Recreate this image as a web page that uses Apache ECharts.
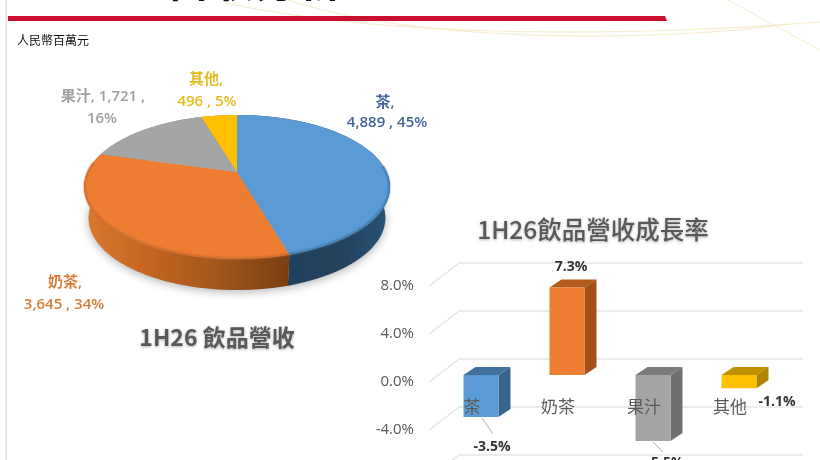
<!DOCTYPE html>
<html><head><meta charset="utf-8">
<style>html,body{margin:0;padding:0;background:#fff}#c{width:820px;height:460px}</style>
<script src="https://cdn.jsdelivr.net/npm/echarts@6/dist/echarts.min.js"></script>
</head><body><div id="c"></div>
<script>
// ---- data ----
const revenueNames = ['茶', '奶茶', '果汁', '其他'];
const revenueValues = [4889, 3645, 1721, 496];
const revenueShares = [45, 34, 16, 5];
const growthNames = ['茶', '奶茶', '果汁', '其他'];
const growthValues = [-3.5, 7.3, -5.5, -1.1];
const growthTicks = [-8, -4, 0, 4, 8];

// ---- styling / layout ----
const SANS = '"Open Sans","Noto Sans CJK TC",sans-serif';
const CJK = '"Noto Sans CJK TC","Open Sans",sans-serif';
const pieTopColors = ['#5b9bd5', '#ed7d31', '#a5a5a5', '#ffc000'];
const pieWallStops = [
  [['#1f3d59', 0], ['#23435f', .7], ['#2a5376', 1]],
  [['#dc7830', 0], ['#c0641f', .35], ['#a3561c', .65], ['#7a3e12', 1]],
  [['#888888', 0], ['#888888', 1]],
  [['#bf9000', 0], ['#bf9000', 1]]
];
const pieRimColors = ['#3d6e9c', '#c4692a', null, null];
const pieLabelColors = ['#44649a', '#d97c38', '#a0a0a0', '#e3bd20'];
const pieLabelLayout = [
  {lines: (n, v, s) => [n + ',', v + ' , ' + s + '%'], x: [385, 387], y: [103, 123]},
  {lines: (n, v, s) => [n + ',', v + ' , ' + s + '%'], x: [65, 64], y: [283, 305]},
  {lines: (n, v, s) => [n + ', ' + v + ' ,', s + '%'], x: [103, 102], y: [97, 119]},
  {lines: (n, v, s) => [n + ',', v + ' , ' + s + '%'], x: [206, 207], y: [80, 102]}
];
const barFront = ['#5b9bd5', '#ed7d31', '#a5a5a5', '#ffc000'];
const barTop = ['#41719c', '#b35a1c', '#7b7b7b', '#bf9000'];
const barSide = ['#39648c', '#a3511a', '#6f6f6f', '#b08400'];
const barLabelOffset = [[20, 23], [13, -27], [21, 15], [47, 7]];
const barLeader = [[[10, -6], [21, 10]], null, [[9, -6], [19, 4]], null];

// perspective disc → screen
const C = {x: 237, y: 172, A: 149.6, B: 68.9, k: 0.208, depth: 31, shrink: 0.97};
const total = revenueValues.reduce((a, b) => a + b, 0);
const RIM_FROM = 85 * Math.PI / 180, RIM_TO = 278 * Math.PI / 180;
function proj(theta, r) {
  const u = Math.sin(theta) * r, v = Math.cos(theta) * r, s = 1 / (1 + C.k * v);
  return [C.x + C.A * u * s, C.y - C.B * v * s];
}
function low(p) { return [C.x + (p[0] - C.x) * C.shrink, p[1] + C.depth]; }
function arcPts(a0, a1, r) {
  const n = Math.max(4, Math.ceil((a1 - a0) / 0.03)), out = [];
  for (let i = 0; i <= n; i++) out.push(proj(a0 + (a1 - a0) * i / n, r));
  return out;
}
function sliceAngles(i) {
  let c = 0;
  for (let j = 0; j < i; j++) c += revenueValues[j];
  return [c / total * 2 * Math.PI, (c + revenueValues[i]) / total * 2 * Math.PI];
}
function fmtThousands(v) { return v.toLocaleString('en-US'); }

function renderPieWall(params, api) {
  const i = api.value(0), [a0, a1] = sliceAngles(i);
  const rim = arcPts(a0, a1, 1), pts = rim.concat(rim.slice().reverse().map(low));
  return {type: 'polygon', shape: {points: pts}, style: {
    fill: new echarts.graphic.LinearGradient(0, 0, 1, 0,
      pieWallStops[i].map(s => ({color: s[0], offset: s[1]}))),
    stroke: 'none'}};
}
function renderPieTop(params, api) {
  const i = api.value(0), [a0, a1] = sliceAngles(i);
  const pts = [proj(0, 0)].concat(arcPts(a0, a1, 1));
  const L = pieLabelLayout[i];
  const lines = L.lines(revenueNames[i], fmtThousands(revenueValues[i]), revenueShares[i]);
  const children = [{type: 'polygon', shape: {points: pts}, style: {fill: pieTopColors[i]}}];
  if (pieRimColors[i]) {
    const r0 = Math.max(a0, RIM_FROM), r1 = Math.min(a1, RIM_TO);
    const rim = arcPts(r0, r1, 0.995);
    children.push({type: 'polyline', shape: {points: rim}, style: {fill: 'none', stroke: pieRimColors[i], lineWidth: 4, opacity: .25}});
    children.push({type: 'polyline', shape: {points: rim}, style: {fill: 'none', stroke: pieRimColors[i], lineWidth: 2, opacity: .4}});
  }
  lines.forEach((t, k) => children.push({type: 'text', z2: 10, style: {
    x: L.x[k], y: L.y[k], text: t, align: 'center', verticalAlign: 'middle',
    fill: pieLabelColors[i], font: '600 15px ' + SANS}}));
  return {type: 'group', children};
}
function renderGrid(params, api) {
  const p = api.coord([0, api.value(0)]), x = params.coordSys.x, y = p[1];
  return {type: 'polyline', shape: {points: [[x, y], [x + 30, y - 23], [x + 374, y - 23]]},
    style: {fill: 'none', stroke: '#d9d9d9', lineWidth: 1}};
}
function renderBar(params, api) {
  const i = api.value(0), val = api.value(1), w = 35, dx = 12, dy = 8;
  const zero = api.coord([i, 0]), end = api.coord([i, val]);
  const x = zero[0] + 9 - w / 2, yA = zero[1] - 7, yB = end[1] - 7;
  const t = Math.min(yA, yB), b = Math.max(yA, yB);
  const children = [
    {type: 'polygon', shape: {points: [[x, t], [x + dx, t - dy], [x + w + dx, t - dy], [x + w, t]]}, style: {fill: barTop[i]}},
    {type: 'polygon', shape: {points: [[x + w, t], [x + w + dx, t - dy], [x + w + dx, b - dy], [x + w, b]]}, style: {fill: barSide[i]}},
    {type: 'rect', shape: {x, y: t, width: w, height: b - t}, style: {fill: barFront[i]}}
  ];
  const lead = barLeader[i];
  if (lead) children.push({type: 'line', shape: {x1: end[0] + lead[0][0], y1: end[1] + lead[0][1], x2: end[0] + lead[1][0], y2: end[1] + lead[1][1]}, style: {stroke: '#b0b0b0', lineWidth: 1}});
  const o = barLabelOffset[i];
  children.push({type: 'text', style: {x: end[0] + o[0], y: end[1] + o[1], text: val.toFixed(1) + '%',
    align: 'center', verticalAlign: 'middle', fill: '#333', font: '700 14px ' + SANS}});
  return {type: 'group', children};
}

const chart = echarts.init(document.getElementById('c'), null, {renderer: 'canvas'});
chart.setOption({
  animation: false,
  backgroundColor: '#fff',
  title: [
    {text: '1H26 飲品營收', left: 212, top: 332, textAlign: 'center', textVerticalAlign: 'middle',
     textStyle: {fontFamily: CJK, fontSize: 23, fontWeight: 700, color: '#595959', textShadowColor: 'rgba(0,0,0,.3)', textShadowBlur: 3, textShadowOffsetY: 1}},
    {text: '1H26飲品營收成長率', left: 588, top: 225, textAlign: 'center', textVerticalAlign: 'middle',
     textStyle: {fontFamily: CJK, fontSize: 24.5, fontWeight: 500, color: '#595959', textShadowColor: 'rgba(0,0,0,.3)', textShadowBlur: 3, textShadowOffsetY: 1}}
  ],
  graphic: [
    {type: 'rect', z: -5, shape: {x: 5.5, y: 0, width: 1.5, height: 460}, style: {fill: '#e4e4e4'}},
    {type: 'bezierCurve', z: -4, shape: {x1: 225, y1: 3, cpx1: 400, cpy1: 40, cpx2: 640, cpy2: 36, x2: 820, y2: 22}, style: {stroke: '#f6ecc8', lineWidth: 1, fill: 'none'}},
    {type: 'bezierCurve', z: -4, shape: {x1: 288, y1: 0, cpx1: 420, cpy1: 44, cpx2: 660, cpy2: 42, x2: 790, y2: 24}, style: {stroke: '#f6ecc8', lineWidth: 1, fill: 'none'}},
    {type: 'line', z: -4, shape: {x1: 728, y1: 0, x2: 820, y2: 50}, style: {stroke: '#f6ecc8', lineWidth: 1}},
    {type: 'polygon', z: 5, shape: {points: [[8, 16], [665, 16], [667, 21], [8, 21]]}, style: {fill: '#c8102e'}},
    {type: 'text', z: 5, style: {x: 17, y: 40, text: '人民幣百萬元', fill: '#111', font: '12px ' + CJK, verticalAlign: 'middle'}},
    {type: 'text', z: 5, style: {x: 60, y: -35, text: '1H26', fill: '#111', font: '700 38px ' + CJK, verticalAlign: 'top'}},
    {type: 'text', z: 5, style: {x: 166, y: -42, text: '營收分析', fill: '#111', font: '700 44px ' + CJK, verticalAlign: 'top'}},
    {type: 'polygon', z: 0, shape: {points: arcPts(0, 2 * Math.PI, 1).map(low)}, style: {fill: '#aaa', shadowColor: 'rgba(0,0,0,.3)', shadowBlur: 10, shadowOffsetY: 2}}
  ],
  grid: {left: 429, top: 286, width: 344, height: 192, containLabel: false, outerBoundsMode: 'none'},
  xAxis: {type: 'category', data: growthNames, z: 10, position: 'bottom', offset: -96,
    axisLine: {show: false, onZero: false}, axisTick: {show: false},
    axisLabel: {margin: 16, color: '#595959', fontSize: 17, fontFamily: CJK}},
  yAxis: {type: 'value', min: -8, max: 8, interval: 4,
    axisLine: {show: false}, axisTick: {show: false}, splitLine: {show: false},
    axisLabel: {margin: 15, color: '#595959', fontSize: 15, fontFamily: SANS, padding: [3, 0, 0, 0], formatter: v => v.toFixed(1) + '%'}},
  series: [
    {type: 'custom', name: 'grid', coordinateSystem: 'cartesian2d', clip: false, z: 1, silent: true,
     encode: {y: 0}, data: growthTicks.map(v => [v]), renderItem: renderGrid},
    {type: 'custom', name: '飲品營收側面', coordinateSystem: 'none', z: 2, silent: true,
     data: revenueValues.map((v, i) => [i, v]), renderItem: renderPieWall},
    {type: 'custom', name: '飲品營收', coordinateSystem: 'none', z: 3, silent: true,
     data: revenueValues.map((v, i) => [i, v]), renderItem: renderPieTop},
    {type: 'custom', name: '成長率', coordinateSystem: 'cartesian2d', clip: false, z: 4, silent: true,
     encode: {x: 0, y: 1}, data: growthValues.map((v, i) => [i, v]), renderItem: renderBar}
  ]
});
</script></body></html>
